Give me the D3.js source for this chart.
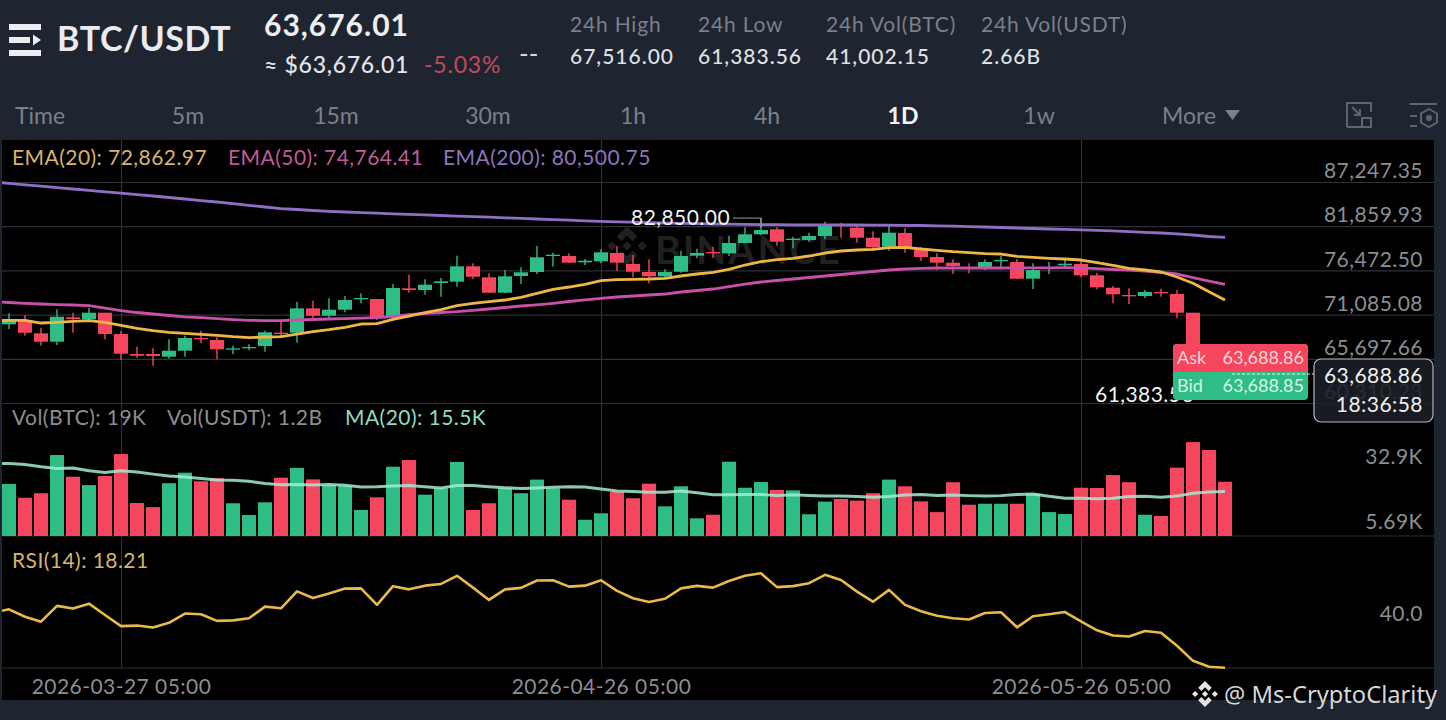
<!DOCTYPE html>
<html>
<head>
<meta charset="utf-8">
<title>BTC/USDT</title>
<script src="https://d3js.org/d3.v7.min.js"></script>
<style>
    html, body { margin: 0; padding: 0; background: #1e2530; }
    svg { display: block; font-family: Lato, sans-serif; }
    .domain { display: none; }
</style>
</head>
<body>
<div id="chart"></div>
<script>
/* values, one entry per daily candle */
var open = [69900,70425,68804,67780,70754,70510,71315,68718,66280,66280,65951,66683,68231,67987,66853,66975,67255,68877,68877,71851,70949,71681,72948,72985,70913,74290,74082,74935,75094,76971,75630,73753,75789,76276,78227,78227,77459,77581,78592,77251,76276,75752,76313,78264,78714,78556,79811,80872,81481,80177,80177,80665,82127,81676,80457,79360,81030,78958,78105,77410,76849,76849,77581,77495,75459,76678,77088,77251,75873,74362,73473,73351,73839,73595,71315,67100,67048];
var close = [70550,68877,67780,70827,70547,71315,68718,66317,66073,66037,66683,68231,68072,66853,66975,67134,68926,68718,71851,70949,71681,72863,73107,70754,74326,74082,74728,75143,76971,75703,73753,75752,76240,78068,78385,77410,77654,78678,77410,76313,75752,76276,78227,78592,78556,79811,80872,81396,79970,80335,80665,81884,81969,80457,79287,81067,79287,78105,77410,77008,76678,77495,77739,75459,76520,76849,77288,75873,74410,73558,73314,73839,73680,71315,67100,67048,63676];
var high = [71240,71035,69486,71729,71315,71924,71315,69084,67170,66975,68072,68511,69121,68316,67292,67463,69121,70303,72656,72778,73070,73351,73680,72985,74814,75947,75386,75545,78263,77337,76118,76520,76849,79446,78629,78556,77861,79043,79446,78348,77824,76605,78873,79121,79360,80702,81725,82850,81725,80579,81067,82408,82286,81884,81237,81884,81603,79287,78556,77824,77337,77824,78227,77861,77337,77495,77824,77824,76190,74570,74302,74082,74241,74082,71315,67100,67516];
var low = [69330,68511,67289,67377,68877,70425,68072,65549,65829,64854,65707,65951,67585,65634,66244,66731,66561,68316,67658,70547,70632,71364,72461,70425,70632,73753,73498,73266,74484,75386,73753,73680,74813,76032,76922,77337,77130,77337,76398,75630,74899,75630,76191,77946,77983,78227,79772,80750,79482,79165,79970,80262,80457,79848,78836,78873,78629,77617,76520,76032,76118,76520,76800,75386,74204,76032,76800,75630,74167,72461,72376,73107,73266,70632,67000,66900,61384];

var volume = [21.8,16.0,17.9,33.9,24.8,21.3,25.1,34.3,13.8,12.1,22.1,26.5,22.9,24.2,13.7,8.8,14.1,24.4,28.5,23.7,21.3,20.9,10.9,16.2,29.0,31.8,17.3,20.0,31.0,10.9,13.7,20.0,17.9,23.6,20.0,15.2,6.8,9.5,18.5,15.8,21.9,12.4,20.8,7.4,8.9,31.1,20.2,22.6,19.3,19.1,9.1,14.4,15.5,14.8,17.9,23.6,20.8,14.5,10.0,22.5,13.1,13.5,13.5,13.5,17.6,10.0,9.2,20.2,20.1,25.5,22.5,8.9,8.4,28.6,39.3,36.0,22.7];

/* the line series start one day earlier, that day is cut off by the left edge */
var volumeMA = [30.4,30.3,29.9,29.0,28.3,28.5,27.3,26.6,27.3,26.8,25.9,25.1,24.7,24.1,23.4,23.3,22.9,22.0,21.5,21.6,21.3,21.6,21.2,20.5,20.6,20.9,21.1,20.6,20.1,21.1,21.1,20.6,20.2,19.9,20.1,20.4,20.6,20.5,19.7,18.8,18.6,18.3,18.3,18.8,18.1,17.3,17.3,17.4,17.4,16.9,17.3,17.0,16.7,16.7,16.5,16.2,16.5,17.2,17.4,17.0,17.2,16.9,16.7,16.9,17.4,17.6,16.6,15.8,15.8,15.6,15.8,16.5,16.6,16.2,16.7,17.9,18.4,18.6];
var ema20 = [70300,70388,70388,70059,70145,70267,70340,70145,69779,69413,69121,68926,68804,68682,68560,68389,68267,68353,68389,68718,69001,69243,69535,69937,69974,70510,70913,71339,71705,72168,72461,72656,72863,73192,73680,74167,74448,74777,75216,75338,75386,75423,75508,75789,76032,76240,76605,77130,77532,77776,77946,78227,78592,78836,78958,79043,79238,79287,79080,78922,78751,78629,78507,78470,78190,78068,77946,77861,77739,77410,77093,76727,76520,76276,75667,74899,73875,72863];
var ema50 = [72680,72558,72461,72376,72302,72254,72180,71888,71583,71339,71156,70974,70815,70718,70596,70474,70388,70352,70352,70425,70486,70547,70596,70644,70718,70852,71071,71217,71339,71449,71607,71766,71949,72132,72278,72461,72680,72887,73070,73229,73351,73473,73594,73838,74021,74204,74509,74813,75057,75240,75423,75606,75789,75971,76154,76337,76520,76642,76715,76764,76764,76764,76764,76764,76788,76788,76788,76800,76788,76679,76581,76496,76398,76240,76032,75606,75179,74764];
var ema200 = [87250,87089,86906,86735,86564,86394,86235,86052,85882,85699,85540,85357,85175,84980,84809,84602,84407,84200,84005,83895,83773,83675,83590,83517,83444,83371,83310,83237,83164,83090,83017,82956,82883,82810,82737,82664,82591,82517,82456,82396,82347,82298,82249,82200,82164,82127,82103,82079,82054,82042,82030,82030,82030,82018,82005,81993,81981,81969,81945,81908,81859,81810,81762,81701,81640,81579,81518,81469,81420,81359,81286,81201,81116,81030,80933,80786,80604,80500];
var rsi = [40.6,41.9,38.9,36.9,43.3,42.2,44.2,39.6,35.1,35.3,34.5,36.4,40.2,39.9,37.2,37.4,38.3,43,42.3,49.2,46.5,48.3,50.3,50.4,43.7,51.3,50,51.5,52.2,55.5,50.7,45.7,50,50.6,53.6,53.7,51.1,51.5,53.7,49.4,46.4,44.9,46.2,50.4,51.4,50.7,53.4,55.5,56.5,50.9,51.3,52.5,55.9,53.8,49.1,45,49.8,43.7,41.1,39.3,38.3,37.8,40.4,40.7,34.6,39.1,39.9,40.8,37,33.4,31.3,30.9,33.1,32.4,27.1,21,18.6,18.21];

/* axis ticks and labels */
var priceTicks = [87247.35, 81859.93, 76472.50, 71085.08, 65697.66, 60310.23];
var volumeTicks = [32.9, 5.69];
var volumeTickLabels = ["32.9K", "5.69K"];
var rsiTicks = [40];
var dateTicks = [7, 37, 67];
var dateLabels = ["2026-03-27 05:00", "2026-04-26 05:00", "2026-05-26 05:00"];

/* header and toolbar texts */
var intervals = ["Time", "5m", "15m", "30m", "1h", "4h", "1D", "1w"];
var intervalX = [40, 188, 336, 488, 633, 767, 903, 1039];
var statNames = ["24h High", "24h Low", "24h Vol(BTC)", "24h Vol(USDT)"];
var statValues = ["67,516.00", "61,383.56", "41,002.15", "2.66B"];
var statX = [570, 698, 826, 981];

function main() {
    var width = 1446, height = 720;
    var up = "#2ebd85", down = "#f6465d";
    var gridColor = "#2f3137", axisText = "#8b8e93", panelBg = "#1e2530";
    var plotLeft = 2, plotRight = 1434, plotTop = 140, plotBottom = 700, priceBottom = 403, volBottom = 536, rsiBottom = 668;

    var svg = d3.select("#chart").append("svg")
        .attr("width", width)
        .attr("height", height);

    svg.append("clipPath").attr("id", "plot").append("rect")
        .attr("x", plotLeft).attr("y", plotTop)
        .attr("width", plotRight - plotLeft).attr("height", plotBottom - plotTop);

    // background: dark panel with the black plot on top
    svg.append("rect").attr("width", width).attr("height", height).attr("fill", panelBg);
    svg.append("rect").attr("x", plotLeft).attr("y", plotTop)
        .attr("width", plotRight - plotLeft).attr("height", plotBottom - plotTop).attr("fill", "#000");

    /* scales */
    var x = d3.scaleLinear().domain([0, open.length - 1]).range([9, 1225]);
    var y = d3.scaleLinear().domain([87247.35, 60310.23]).range([182, priceBottom]);
    var yVol = d3.scaleLinear().domain([0, 32.9]).range([volBottom, 457.4]);
    var yRsi = d3.scaleLinear().domain([40, 18.21]).range([614, 667.7]);
    var bodyWidth = 14;

    /* grid lines */
    var gridX = svg.append("g")
        .attr("transform", "translate(0," + rsiBottom + ")")
        .call(d3.axisBottom(x).tickValues(dateTicks).tickSize(-(rsiBottom - plotTop)).tickFormat(""));
    gridX.selectAll("line").attr("stroke", gridColor).attr("stroke-width", 1.2);

    var gridY = svg.append("g")
        .attr("transform", "translate(" + plotRight + ",0)")
        .call(d3.axisLeft(y).tickValues(priceTicks).tickSize(plotRight - plotLeft).tickFormat(""));
    gridY.selectAll("line").attr("stroke", gridColor).attr("stroke-width", 1.2);

    // pane separators
    svg.selectAll(".sep").data([volBottom, rsiBottom]).enter().append("line")
        .attr("x1", plotLeft).attr("x2", plotRight)
        .attr("y1", function(d) { return d; }).attr("y2", function(d) { return d; })
        .attr("stroke", gridColor).attr("stroke-width", 1.2);

    /* watermark */
    var wm = svg.append("g");
    drawLogo(wm, 627, 246, 20, "#202020");
    wm.append("text").attr("x", 655).attr("y", 264)
        .attr("font-size", 39).attr("font-weight", 700).attr("letter-spacing", 2)
        .attr("fill", "#202020").text("BINANCE");

    /* candles */
    var candles = d3.range(open.length);
    var candle = svg.append("g").selectAll("g").data(candles).enter().append("g")
        .attr("fill", function(i) { return close[i] >= open[i] ? up : down; })
        .attr("stroke", function(i) { return close[i] >= open[i] ? up : down; });
    candle.append("line")
        .attr("x1", function(i) { return x(i); })
        .attr("x2", function(i) { return x(i); })
        .attr("y1", function(i) { return y(high[i]); })
        .attr("y2", function(i) { return y(low[i]); })
        .attr("stroke-width", 1.4);
    candle.append("rect")
        .attr("x", function(i) { return x(i) - bodyWidth / 2; })
        .attr("width", bodyWidth)
        .attr("y", function(i) { return y(Math.max(open[i], close[i])); })
        .attr("height", function(i) { return Math.max(1.3, Math.abs(y(open[i]) - y(close[i]))); })
        .attr("stroke", "none");

    /* moving averages, shifted by one because of the leading day */
    var priceLine = d3.line().x(function(d, i) { return x(i - 1); }).y(function(d) { return y(d); });
    addLine(ema200, priceLine, "#8e6fc5", 2.8);
    addLine(ema50, priceLine, "#c850a8", 2.8);
    addLine(ema20, priceLine, "#eeb646", 2.8);

    /* volume */
    svg.append("g").selectAll("rect").data(volume).enter().append("rect")
        .attr("x", function(d, i) { return x(i) - bodyWidth / 2; })
        .attr("width", bodyWidth)
        .attr("y", function(d) { return yVol(d); })
        .attr("height", function(d) { return volBottom - yVol(d); })
        .attr("fill", function(d, i) { return close[i] >= open[i] ? up : down; });
    addLine(volumeMA, d3.line().x(function(d, i) { return x(i - 1); }).y(function(d) { return yVol(d); }), "#a3ecd2", 3, 0.85);

    /* rsi */
    addLine(rsi, d3.line().x(function(d, i) { return x(i - 1); }).y(function(d) { return yRsi(d); }), "#e9b949", 2.6);

    /* axis labels */
    axisLabels(d3.axisLeft(y).tickValues(priceTicks).tickSize(0).tickPadding(11)
        .tickFormat(d3.format(",.2f")), plotRight, -11);
    axisLabels(d3.axisLeft(yVol).tickValues(volumeTicks).tickSize(0).tickPadding(11)
        .tickFormat(function(d, i) { return volumeTickLabels[i]; }), plotRight, -1);
    axisLabels(d3.axisLeft(yRsi).tickValues(rsiTicks).tickSize(0).tickPadding(11)
        .tickFormat(d3.format(".1f")), plotRight, 0);

    var dateAxis = svg.append("g")
        .attr("transform", "translate(0," + rsiBottom + ")")
        .call(d3.axisBottom(x).tickValues(dateTicks).tickSize(0).tickPadding(11)
            .tickFormat(function(d, i) { return dateLabels[i]; }));
    dateAxis.selectAll("text")
        .attr("font-family", "Lato, sans-serif").attr("font-size", 21)
        .attr("letter-spacing", 0.45).attr("fill", axisText);

    /* high / low markers */
    svg.append("path")
        .attr("d", "M733," + y(82850) + "H" + x(47) + "V228")
        .attr("fill", "none").attr("stroke", "#9a9a9a").attr("stroke-width", 1);
    addText(631, y(82850) + 7, "82,850.00", 21, "#f2f2f2", "start", 400, 0.45);
    addText(1095, y(61383.56) + 8, "61,383.56", 21, "#f2f2f2", "start", 400, 0.45);

    /* ask / bid box */
    svg.append("rect").attr("x", 1173).attr("y", 344).attr("width", 135).attr("height", 56)
        .attr("rx", 4).attr("fill", up);
    svg.append("path").attr("d", "M1173,372V348a4,4 0 0 1 4,-4H1304a4,4 0 0 1 4,4V372Z").attr("fill", down);
    addText(1177, 364, "Ask", 18, "#ffd5da");
    addText(1304, 364, "63,688.86", 18, "#ffd5da", "end");
    addText(1177, 392, "Bid", 18, "#d5f5e8");
    addText(1304, 392, "63,688.85", 18, "#d5f5e8", "end");
    svg.append("line").attr("x1", 1232).attr("x2", 1314).attr("y1", 374).attr("y2", 374)
        .attr("stroke", "#e8f5ef").attr("stroke-width", 1).attr("stroke-dasharray", "3,2");

    /* current price tag */
    svg.append("rect").attr("x", 1314).attr("y", 359).attr("width", 119).attr("height", 63)
        .attr("rx", 7).attr("fill", "#1b2027").attr("fill-opacity", 0.88)
        .attr("stroke", "#b5b8bc").attr("stroke-width", 1.2);
    addText(1423, 383, "63,688.86", 21, "#f0f0f0", "end", 400, 0.45);
    addText(1423, 412, "18:36:58", 21, "#f0f0f0", "end", 400, 0.45);

    /* legends */
    addText(12, 165, "EMA(20): 72,862.97", 21, "#d8b36c", "start", 400, 0.45);
    addText(228, 165, "EMA(50): 74,764.41", 21, "#bf5a9d", "start", 400, 0.45);
    addText(443, 165, "EMA(200): 80,500.75", 21, "#8d74bf", "start", 400, 0.45);
    addText(12, 425, "Vol(BTC): 19K", 21, axisText, "start", 400, 0.45);
    addText(167, 425, "Vol(USDT): 1.2B", 21, axisText, "start", 400, 0.45);
    addText(345, 425, "MA(20): 15.5K", 21, "#8fdcc0", "start", 400, 0.45);
    addText(12, 568, "RSI(14): 18.21", 21, "#d8b36c", "start", 400, 0.45);

    /* header */
    drawMenuIcon();
    addText(57, 51, "BTC/USDT", 34, "#e9ebef", "start", 700, 0.6);
    addText(264, 36, "63,676.01", 30, "#eceef1", "start", 700, 1);
    addText(264, 73, "\u2248 $63,676.01", 23, "#e3e5e9", "start", 500, 0.7);
    addText(424, 73, "-5.03%", 23, "#c44a5a", "start", 400, 0.8);
    addText(519, 63, "--", 26, "#d5d7da");

    statNames.forEach(function(name, i) {
        addText(statX[i], 32, name, 21, "#7b8089", "start", 400, 0.8);
        addText(statX[i], 64, statValues[i], 21, "#dfe1e5", "start", 500, 1);
    });

    /* toolbar */
    intervals.forEach(function(name, i) {
        var active = name === "1D";
        addText(intervalX[i], 124, name, 23, active ? "#f2f3f5" : "#7b8089", "middle", active ? 700 : 400);
    });
    addText(1189, 124, "More", 23, "#7b8089", "middle");
    svg.append("path").attr("d", "M1225,110H1240L1232.5,120Z").attr("fill", "#7b8089");
    drawToolIcons();

    /* signature */
    drawLogo(svg, 1205, 694, 13, "#e6e6e6");
    svg.append("text").attr("x", 1224).attr("y", 703)
        .attr("font-family", "Noto Sans, sans-serif").attr("font-size", 23.7)
        .attr("fill", "#d6d6d6").text("@ Ms-CryptoClarity");

    // adds one polyline from a values array
    function addLine(values, gen, color, w, op) {
        svg.append("path").datum(values)
            .attr("d", gen)
            .attr("clip-path", "url(#plot)")
            .attr("fill", "none")
            .attr("stroke", color)
            .attr("stroke-width", w)
            .attr("stroke-opacity", op === undefined ? 1 : op)
            .attr("stroke-linejoin", "round");
    }

    function axisLabels(axis, xPos, shift) {
        var g = svg.append("g").attr("transform", "translate(" + xPos + "," + shift + ")").call(axis);
        g.selectAll("text")
            .attr("font-family", "Lato, sans-serif").attr("font-size", 21)
            .attr("letter-spacing", 0.45).attr("fill", axisText);
    }

    function addText(tx, ty, str, size, color, anchor, weight, spacing) {
        return svg.append("text")
            .attr("x", tx).attr("y", ty)
            .attr("font-size", size)
            .attr("fill", color)
            .attr("text-anchor", anchor || "start")
            .attr("font-weight", weight || 400)
            .attr("letter-spacing", spacing || 0)
            .text(str);
    }

    // five piece exchange logo, s is the half height
    function drawLogo(parent, cx, cy, s, color) {
        var shapes = [
            "M0,-.24L.24,0L0,.24L-.24,0Z",
            "M-.76,-.24L-.52,0L-.76,.24L-1,0Z",
            "M.76,-.24L1,0L.76,.24L.52,0Z",
            "M0,-1L.52,-.48L.28,-.24L0,-.52L-.28,-.24L-.52,-.48Z",
            "M0,1L.52,.48L.28,.24L0,.52L-.28,.24L-.52,.48Z"
        ];
        var g = parent.append("g").attr("transform", "translate(" + cx + "," + cy + ") scale(" + s + ")");
        shapes.forEach(function(d) { g.append("path").attr("d", d).attr("fill", color); });
    }

    function drawMenuIcon() {
        var c = "#eceef2";
        svg.append("path").attr("fill", c)
            .attr("d", "M9,24H41V30H9Z M9,37H30V43H9Z M9,50H41V56H9Z M33,34.5L41,40L33,45.5Z");
    }

    function drawToolIcons() {
        var c = "#5d6571";
        var g = svg.append("g").attr("fill", "none").attr("stroke", c).attr("stroke-width", 2);
        g.append("path").attr("d", "M1347,127V103H1371V112 M1363,127H1347");
        g.append("path").attr("d", "M1352,107L1360,115 M1360,109V115H1354");
        g.append("rect").attr("x", 1362).attr("y", 118).attr("width", 9).attr("height", 9);
        g.append("path").attr("d", "M1410,104H1437 M1410,116H1417 M1410,126H1417");
        g.append("path").attr("d", "M1429,109L1437,113.5V122.5L1429,127L1421,122.5V113.5Z");
        g.append("circle").attr("cx", 1429).attr("cy", 118).attr("r", 2).attr("fill", c);
    }
}

main();
</script>
</body>
</html>
